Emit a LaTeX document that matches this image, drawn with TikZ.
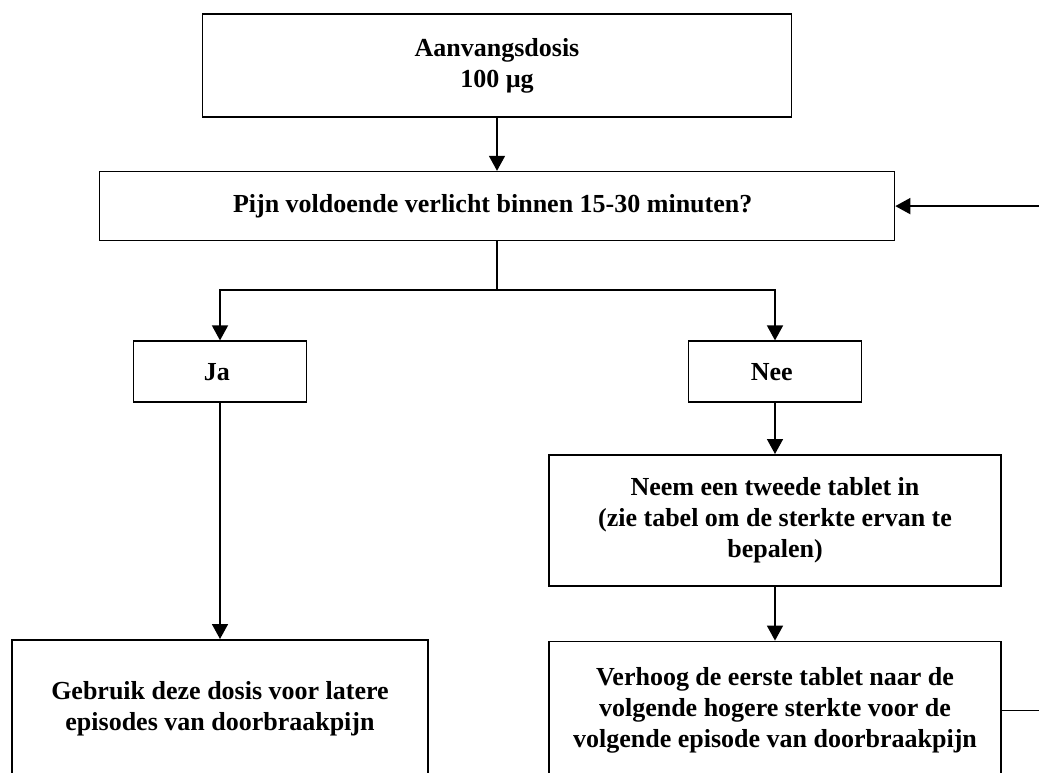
\documentclass[tikz,border=0pt]{standalone}
\usepackage{fontspec}
\setmainfont{Liberation Serif}
\usetikzlibrary{positioning,arrows.meta}
\tikzstyle{block}=[rectangle, draw=black, inner sep=0pt, align=center, text=black, font=\fontsize{26}{31}\selectfont\bfseries]
\tikzstyle{answer}=[block, minimum width=173pt, minimum height=61pt]
\tikzstyle{result}=[block, minimum width=452pt]
\tikzset{>={Triangle[length=15pt,width=16pt]}}

\begin{document}
\begin{tikzpicture}[x=1pt, y=1pt, line width=1.6pt]
        \useasboundingbox (0,0) rectangle (1039,-772);
        \clip (0,0) rectangle (1039,-772);

        \node(dose)[block, minimum width=589pt, minimum height=103pt] at (497,-65.5) {
            Aanvangsdosis\\100 µg
        };
        \node(question)[block, minimum width=795pt, minimum height=69pt, below=53pt of dose] {
            Pijn voldoende verlicht binnen 15-30 minuten?
        };
        \draw[->] (dose) -- (question);

        % ja / nee
        \node(yes)[answer, below=99pt of question, xshift=-277pt] {
            Ja
        };
        \node(no)[answer, below=99pt of question, xshift=278pt] {
            Nee
        };
        \draw (question) -- ++(0,-84pt) coordinate(split);
        \draw[->] (split) -| (yes);
        \draw[->] (split) -| (no);

        \node(second)[result, minimum height=131pt, below=51pt of no] {
            Neem een tweede tablet in\\(zie tabel om de sterkte ervan te\\bepalen)
        };
        \draw[->] (no) -- (second);

        \node(raise)[result, minimum height=138pt, below=54pt of second] {
            Verhoog de eerste tablet naar de\\volgende hogere sterkte voor de\\volgende episode van doorbraakpijn
        };
        \draw[->] (second) -- (raise);

        \node(keep)[block, minimum width=416pt, minimum height=138pt, below=236pt of yes] {
            Gebruik deze dosis voor latere\\episodes van doorbraakpijn
        };
        \draw[->] (yes) -- (keep);

        % terug naar de vraag
        \path (raise.east) ++(40pt,0) coordinate(loopout);
        \path (question.east) ++(145pt,0) coordinate(loopin);
        \draw (raise) -- (loopout);
        \draw[->] (loopin) -- (question);
\end{tikzpicture}
\end{document}
